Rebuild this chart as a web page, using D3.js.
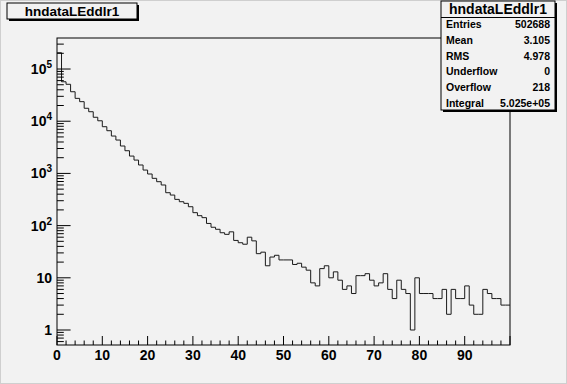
<!DOCTYPE html>
<html>
<head>
<meta charset="utf-8">
<script src="https://cdn.jsdelivr.net/npm/d3@7"></script>
<style>
  body { margin: 0; background: #f2f2f2; }
  text { font-family: "Liberation Sans", Arial, sans-serif; font-weight: bold; fill: #000; }
</style>
</head>
<body>
<div id="vis"></div>
<script>
(function(){
const width = 567;
const height = 384;

// histogram hndataLEddlr1: 100 bins of width 1 from 0 to 100
const binEdges = [0, 100];
const counts = [
  205000, 57000, 51000, 36700, 27400, 23700, 17700, 15200, 11900, 10200,
  7850, 6580, 5200, 4360, 3350, 2720, 2150, 1800, 1450, 1160,
  975, 805, 694, 600, 427, 385, 318, 287, 267, 230,
  177, 155, 142, 110, 93, 85, 73, 68, 76, 52,
  47, 44, 60, 51, 29, 31, 17, 25, 27, 22,
  22, 22, 18, 19, 16, 14, 8, 7, 15, 17,
  10, 13, 9, 6, 7, 5, 11, 11, 12, 9,
  7, 8, 12, 6, 4, 9, 6, 5, 1, 10,
  5, 5, 5, 4, 4, 6, 2, 6, 4, 4,
  7, 3, 2, 2, 6, 5, 4, 4, 3, 3
];
const xTicks = [0, 10, 20, 30, 40, 50, 60, 70, 80, 90];
const yTicks = [1, 10, 100, 1000, 10000, 100000];
const yExp = ["1", "10", "2", "3", "4", "5"];

const statNames = ["Entries", "Mean", "RMS", "Underflow", "Overflow", "Integral"];
const statValues = ["502688", "3.105", "4.978", "0", "218", "5.025e+05"];
const histName = "hndataLEddlr1";

const frame = { left: 57, right: 510, top: 38, bottom: 345 };

const svg = d3.select("#vis")
  .append("svg")
  .attr("width", width)
  .attr("height", height);

svg.append("rect")
  .attr("x", 0.5).attr("y", 0.5)
  .attr("width", width - 1).attr("height", height - 1)
  .attr("fill", "#f2f2f2")
  .attr("stroke", "#cfcfcf");

const x = d3.scaleLinear().domain(binEdges).range([frame.left, frame.right]);
const y = d3.scaleLog().domain([0.516, 3.93e5]).range([frame.bottom, frame.top]);

// frame
svg.append("rect")
  .attr("x", frame.left).attr("y", frame.top)
  .attr("width", frame.right - frame.left)
  .attr("height", frame.bottom - frame.top)
  .attr("fill", "none")
  .attr("stroke", "#000")
  .attr("stroke-width", 1);

// histogram outline
const pts = counts.map((c, i) => [i, c]);
pts.push([counts.length, counts[counts.length - 1]]);
const line = d3.line()
  .x(d => x(d[0]))
  .y(d => y(d[1]))
  .curve(d3.curveStepAfter);

svg.append("path")
  .attr("d", line(pts))
  .attr("fill", "none")
  .attr("stroke", "#1a1a1a")
  .attr("stroke-width", 1);

// x axis ticks (major every 10, minor every 2)
const xg = svg.append("g");
d3.range(0, 101, 2).forEach(v => {
  const major = v % 10 === 0;
  xg.append("line")
    .attr("x1", x(v)).attr("x2", x(v))
    .attr("y1", frame.bottom)
    .attr("y2", frame.bottom - (major ? 9 : 4.5))
    .attr("stroke", "#000");
});
xg.selectAll("text.xl")
  .data(xTicks)
  .join("text")
  .attr("class", "xl")
  .attr("x", d => x(d))
  .attr("y", 360)
  .attr("text-anchor", "middle")
  .style("font-size", "14px")
  .text(d => d);

// y axis ticks (log)
const yg = svg.append("g");
const minorVals = [];
for (let e = -1; e <= 5; e++) {
  for (let m = 1; m <= 9; m++) {
    const v = m * Math.pow(10, e);
    if (v >= 0.516 && v <= 3.93e5) minorVals.push({ v, major: m === 1 });
  }
}
minorVals.forEach(d => {
  yg.append("line")
    .attr("x1", frame.left).attr("x2", frame.left + (d.major ? 13.6 : 6.8))
    .attr("y1", y(d.v)).attr("y2", y(d.v))
    .attr("stroke", "#000");
});
yTicks.forEach((t, i) => {
  const tx = yg.append("text")
    .attr("x", 52)
    .attr("y", y(t) + 5)
    .attr("text-anchor", "end")
    .style("font-size", "14px");
  if (i < 2) {
    tx.text(yExp[i]);
  } else {
    tx.append("tspan").text("10");
    tx.append("tspan")
      .attr("dy", -6)
      .style("font-size", "10px")
      .text(yExp[i]);
  }
});

// title box
svg.append("rect")
  .attr("x", 9).attr("y", 5).attr("width", 130).attr("height", 16)
  .attr("fill", "#000");
svg.append("rect")
  .attr("x", 7).attr("y", 3).attr("width", 130).attr("height", 16)
  .attr("fill", "#f2f2f2").attr("stroke", "#000").attr("stroke-width", 1);
svg.append("text")
  .attr("x", 72).attr("y", 16)
  .attr("text-anchor", "middle")
  .style("font-size", "13.5px")
  .text(histName);

// stats box
const sb = { x: 441, y: 1, w: 114, h: 109 };
svg.append("rect")
  .attr("x", sb.x + 2).attr("y", sb.y + 2).attr("width", sb.w).attr("height", sb.h)
  .attr("fill", "#000");
svg.append("rect")
  .attr("x", sb.x).attr("y", sb.y).attr("width", sb.w).attr("height", sb.h)
  .attr("fill", "#f2f2f2").attr("stroke", "#000").attr("stroke-width", 1);
svg.append("line")
  .attr("x1", sb.x).attr("x2", sb.x + sb.w)
  .attr("y1", 17.5).attr("y2", 17.5)
  .attr("stroke", "#000");
svg.append("text")
  .attr("x", sb.x + sb.w / 2).attr("y", 14)
  .attr("text-anchor", "middle")
  .style("font-size", "14px")
  .text(histName);

const rowY = d3.scalePoint().domain(statNames).range([24, 103]);
statNames.forEach((n, i) => {
  svg.append("text")
    .attr("x", sb.x + 5).attr("y", rowY(n) + 4)
    .style("font-size", "10.5px")
    .text(n);
  svg.append("text")
    .attr("x", sb.x + sb.w - 5).attr("y", rowY(n) + 4)
    .attr("text-anchor", "end")
    .style("font-size", "10.5px")
    .text(statValues[i]);
});
})();
</script>
</body>
</html>
